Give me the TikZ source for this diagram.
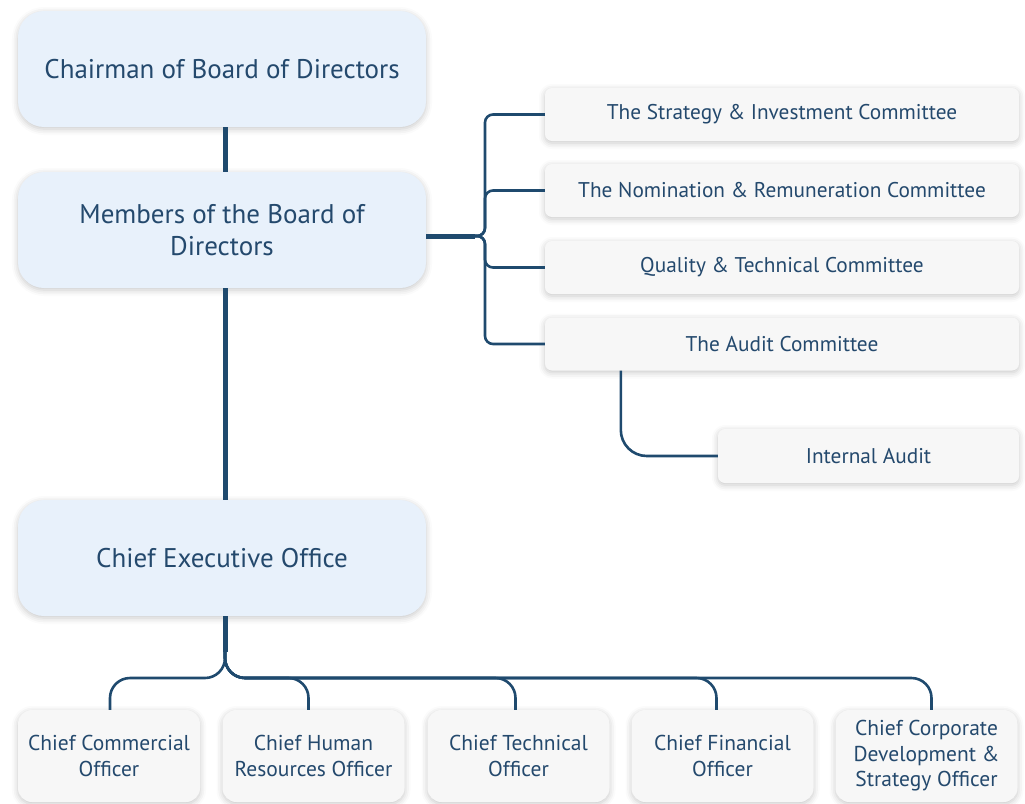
\documentclass[tikz,border=0pt]{standalone}
\usepackage{fontspec}
\setmainfont{PT Sans}
\usetikzlibrary{shadows.blur}

\definecolor{inkblue}{HTML}{24496D}
\definecolor{linkblue}{HTML}{1F4A6E}
\definecolor{boardfill}{HTML}{E8F1FB}
\definecolor{unitfill}{HTML}{F7F7F7}

\tikzset{
  softshadow/.style={blur shadow={shadow xshift=0pt, shadow yshift=-2pt,
      shadow blur radius=6pt, shadow opacity=22}},
  boardbox/.style={softshadow, fill=boardfill, rounded corners=26pt,
      minimum width=408pt, minimum height=116pt, align=center,
      text=inkblue, font=\fontsize{27}{32}\selectfont},
  unitbox/.style={softshadow, fill=unitfill, rounded corners=7pt,
      minimum width=474pt, minimum height=53pt, align=center,
      text=inkblue, font=\fontsize{21.3}{25}\selectfont},
  officerbox/.style={softshadow, fill=unitfill, rounded corners=14pt,
      minimum width=182pt, minimum height=92pt, align=center,
      text=inkblue, font=\fontsize{21.5}{25.5}\selectfont},
  trunk/.style={draw=linkblue, line width=5pt},
  link/.style={draw=linkblue, line width=2.6pt}
}

\begin{document}
\begin{tikzpicture}[x=1pt, y=-1pt]
  \useasboundingbox (0,0) rectangle (1025,803);

  % board
  \node[boardbox] (chair) at (222,69) {Chairman of Board of Directors};
  \node[boardbox] (members) at (222,230) {Members of the Board of\\Directors};
  \node[boardbox] (ceo) at (222,558) {Chief Executive Office};

  % committees
  \node[unitbox] (strat) at (782,114.5) {The Strategy \& Investment Committee};
  \node[unitbox] (nomin) at (782,190.5) {The Nomination \& Remuneration Committee};
  \node[unitbox] (quality) at (782,267.5) {Quality \& Technical Committee};
  \node[unitbox] (audit) at (782,344) {The Audit Committee};
  \node[unitbox, minimum width=301pt, minimum height=54pt] (internal) at (868.5,456) {Internal Audit};

  % officers
  \node[officerbox] (cco) at (109,756) {Chief Commercial\\Officer};
  \node[officerbox] (chro) at (313.5,756) {Chief Human\\Resources Officer};
  \node[officerbox] (cto) at (518.5,756) {Chief Technical\\Officer};
  \node[officerbox] (cfo) at (722.5,756) {Chief Financial\\Officer};
  \node[officerbox] (cdso) at (926.5,756) {Chief Corporate\\Development \&\\Strategy Officer};

  % connectors
  \coordinate (hub) at (485,236);
  \coordinate (bus) at (225,678);
  \draw[trunk] ([xshift=3pt]chair.south) -- ([xshift=3pt]members.north);
  \draw[trunk] ([xshift=3pt]members.south) -- ([xshift=3pt]ceo.north);
  \draw[trunk] ([yshift=-6pt]members.east) -- ([xshift=-10pt]hub);
  \foreach \c in {strat,nomin,quality,audit}
    \draw[link, rounded corners=8pt] ([xshift=-12pt]hub) -| (hub |- \c.west) -- (\c.west);
  \draw[link, rounded corners=26pt] ([xshift=76pt]audit.south west) |- (internal.west);
  \draw[trunk] ([xshift=3pt]ceo.south) -- ++(0,36);
  \foreach \c/\dx in {cco/1,chro/-5,cto/-3,cfo/-6,cdso/5}
    \draw[link, rounded corners=20pt] ([xshift=3pt,yshift=-30pt]ceo.south) |- ([xshift=\dx pt]\c.north |- bus) -- ([xshift=\dx pt]\c.north);
\end{tikzpicture}
\end{document}
